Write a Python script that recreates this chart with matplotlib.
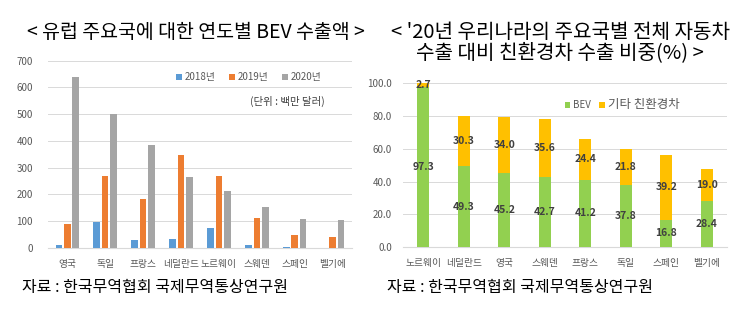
import matplotlib
matplotlib.use('Agg')
import matplotlib.pyplot as plt
import numpy as np

plt.rcParams['font.family'] = ['Noto Sans CJK KR', 'DejaVu Sans']

# left chart: BEV exports by year (million USD)
countries_1 = ['영국', '독일', '프랑스', '네덜란드', '노르웨이', '스웨덴', '스페인', '벨기에']
years = ['2018년', '2019년', '2020년']
exp_2018 = [10, 96, 29, 34, 73, 12, 4, 0]
exp_2019 = [88, 270, 182, 349, 270, 112, 47, 41]
exp_2020 = [641, 499, 385, 265, 213, 154, 108, 106]
year_colors = ['#5B9BD5', '#ED7D31', '#A5A5A5']

# right chart: share of eco-friendly cars in total car exports (%)
countries_2 = ['노르웨이', '네덜란드', '영국', '스웨덴', '프랑스', '독일', '스페인', '벨기에']
bev_share = [97.3, 49.3, 45.2, 42.7, 41.2, 37.8, 16.8, 28.4]
other_share = [2.7, 30.3, 34.0, 35.6, 24.4, 21.8, 39.2, 19.0]
share_labels = ['BEV', '기타 친환경차']
share_colors = ['#92D050', '#FFC000']

fig = plt.figure(figsize=(7.42, 3.30), dpi=100)

# ---- left chart
ax1 = fig.add_axes([0.065, 0.2485, 0.409, 0.5675])
x = np.arange(len(countries_1))
w = 0.175
for i, vals in enumerate([exp_2018, exp_2019, exp_2020]):
    ax1.bar(x + (i - 1) * 0.22, vals, w, color=year_colors[i], label=years[i], zorder=3)
ax1.set_ylim(0, 700)
ax1.set_xlim(-0.5, len(countries_1) - 0.5)
ax1.set_yticks(range(0, 701, 100))
ax1.set_xticks(x)
ax1.set_xticklabels(countries_1)
ax1.grid(axis='y', color='#D9D9D9', linewidth=0.7, zorder=0)
for s in ['top', 'right', 'left']:
    ax1.spines[s].set_visible(False)
ax1.spines['bottom'].set_color('#D9D9D9')
ax1.tick_params(axis='both', length=0, labelsize=7, colors='#595959')
ax1.tick_params(axis='y', pad=11)
ax1.tick_params(axis='x', pad=8)
ax1.legend(loc='upper right', bbox_to_anchor=(0.93, 0.985), ncol=3, frameon=False,
           fontsize=7, handlelength=0.6, handleheight=0.6, columnspacing=1.4,
           handletextpad=0.3, labelcolor='#595959')
ax1.text(0.91, 0.765, '(단위 : 백만 달러)', transform=ax1.transAxes, ha='right',
         fontsize=7.5, color='#404040')

# ---- right chart
ax2 = fig.add_axes([0.543, 0.2506, 0.437, 0.4984])
x2 = np.arange(len(countries_2))
w2 = 0.3
ax2.bar(x2, bev_share, w2, color=share_colors[0], label=share_labels[0], zorder=3)
ax2.bar(x2, other_share, w2, bottom=bev_share, color=share_colors[1],
        label=share_labels[1], zorder=3)
for xi, b, o in zip(x2, bev_share, other_share):
    ax2.text(xi, b / 2, f'{b:.1f}', ha='center', va='center', fontsize=7.5,
             fontweight='bold', color='#404040', zorder=4)
    ax2.text(xi, b + o / 2, f'{o:.1f}', ha='center', va='center', fontsize=7.5,
             fontweight='bold', color='#404040', zorder=4)
ax2.set_ylim(0, 100)
ax2.set_xlim(-0.5, len(countries_2) - 0.5)
ax2.set_yticks(range(0, 101, 20))
ax2.set_yticklabels([f'{v:.1f}' for v in range(0, 101, 20)])
ax2.set_xticks(x2)
ax2.set_xticklabels(countries_2)
ax2.grid(axis='y', color='#D9D9D9', linewidth=0.7, zorder=0)
for s in ['top', 'right', 'left']:
    ax2.spines[s].set_visible(False)
ax2.spines['bottom'].set_color('#D9D9D9')
ax2.tick_params(axis='both', length=0, labelsize=7, colors='#595959')
ax2.tick_params(axis='y', pad=8)
ax2.tick_params(axis='x', pad=8)
leg = ax2.legend(loc='upper right', bbox_to_anchor=(0.88, 0.96), ncol=2, frameon=False,
                 fontsize=7, handlelength=0.6, handleheight=0.6, columnspacing=0.8,
                 handletextpad=0.3, labelcolor='#595959')
leg.get_texts()[1].set_fontsize(9)

# ---- titles and sources
fig.text(0.264, 0.9, '< 유럽 주요국에 대한 연도별 BEV 수출액 >', ha='center', va='center',
         fontsize=14, color='black')
fig.text(0.755, 0.903, "< '20년 우리나라의 주요국별 전체 자동차", ha='center', va='center',
         fontsize=14.5, color='black')
fig.text(0.755, 0.84, '수출 대비 친환경차 수출 비중(%) >', ha='center', va='center',
         fontsize=14.5, color='black')
fig.text(0.03, 0.128, '자료 : 한국무역협회 국제무역통상연구원', ha='left', va='center',
         fontsize=11.5, color='black')
fig.text(0.522, 0.128, '자료 : 한국무역협회 국제무역통상연구원', ha='left', va='center',
         fontsize=11.5, color='black')

fig.savefig('out.png', dpi=100)
